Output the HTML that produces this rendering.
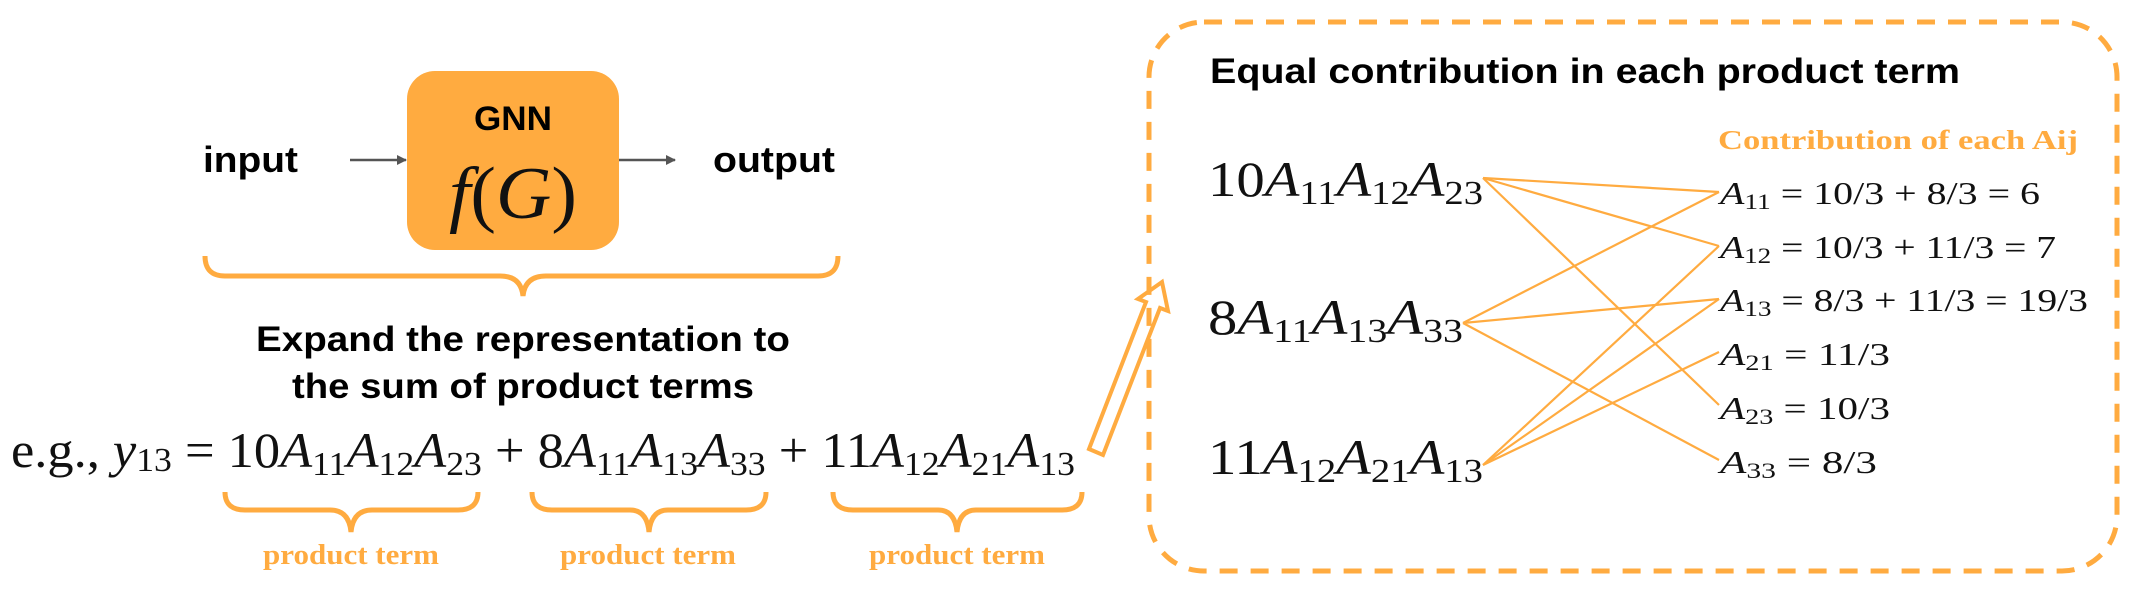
<!DOCTYPE html>
<html><head><meta charset="utf-8"><style>
html,body{margin:0;padding:0;background:#fff;}
svg{display:block}
.b{font-family:"Liberation Sans",sans-serif;font-weight:bold;fill:#000}
.m{font-family:"Liberation Serif",serif;fill:#111}
.i{font-style:italic}
.o{font-family:"Liberation Serif",serif;font-weight:bold;fill:#FFAB40}
</style></head><body>
<svg width="2146" height="608" viewBox="0 0 2146 608" xmlns="http://www.w3.org/2000/svg">
<defs><marker id="ah" markerWidth="10" markerHeight="10" refX="9" refY="5" orient="auto" markerUnits="userSpaceOnUse"><path d="M0,0 L10,5 L0,10 z" fill="#555"/></marker></defs>
<rect x="407" y="71" width="212" height="179" rx="28" fill="#FFAB40"/>
<text x="513" y="130" class="b" font-size="34" text-anchor="middle" textLength="78" lengthAdjust="spacingAndGlyphs">GNN</text>
<text x="513" y="218" class="m" font-size="74" text-anchor="middle" textLength="128" lengthAdjust="spacingAndGlyphs"><tspan class="i">f</tspan>(<tspan class="i">G</tspan>)</text>
<text x="203" y="172" class="b" font-size="36" textLength="95" lengthAdjust="spacingAndGlyphs">input</text>
<text x="713" y="172" class="b" font-size="36" textLength="122" lengthAdjust="spacingAndGlyphs">output</text>
<line x1="350" y1="160" x2="406" y2="160" stroke="#555" stroke-width="2.5" marker-end="url(#ah)"/>
<line x1="619" y1="160" x2="675" y2="160" stroke="#555" stroke-width="2.5" marker-end="url(#ah)"/>
<path d="M205,256 Q205,276 225,276 L500,276 Q521,276 523,296 Q525,276 546,276 L818,276 Q838,276 838,256" fill="none" stroke="#FFAB40" stroke-width="5"/>
<text x="523" y="351" class="b" font-size="35" text-anchor="middle" textLength="534" lengthAdjust="spacingAndGlyphs">Expand the representation to</text>
<text x="523" y="398" class="b" font-size="35" text-anchor="middle" textLength="462" lengthAdjust="spacingAndGlyphs">the sum of product terms</text>
<text x="11" y="467" class="m" font-size="50" textLength="1064" lengthAdjust="spacingAndGlyphs">e.g., <tspan class="i">y</tspan><tspan font-size="34" dy="4">13</tspan><tspan dy="-4"> = 10</tspan><tspan class="i">A</tspan><tspan font-size="34" dy="8">11</tspan><tspan class="i" dy="-8">A</tspan><tspan font-size="34" dy="8">12</tspan><tspan class="i" dy="-8">A</tspan><tspan font-size="34" dy="8">23</tspan><tspan dy="-8"> + 8</tspan><tspan class="i">A</tspan><tspan font-size="34" dy="8">11</tspan><tspan class="i" dy="-8">A</tspan><tspan font-size="34" dy="8">13</tspan><tspan class="i" dy="-8">A</tspan><tspan font-size="34" dy="8">33</tspan><tspan dy="-8"> + 11</tspan><tspan class="i">A</tspan><tspan font-size="34" dy="8">12</tspan><tspan class="i" dy="-8">A</tspan><tspan font-size="34" dy="8">21</tspan><tspan class="i" dy="-8">A</tspan><tspan font-size="34" dy="8">13</tspan></text>
<g fill="none" stroke="#FFAB40" stroke-width="5">
<path d="M225,492 Q225,510 245,510 L330,510 Q349,510 351,532 Q353,510 372,510 L458,510 Q478,510 478,492"/>
<path d="M532,492 Q532,510 552,510 L630,510 Q647,510 649,532 Q651,510 668,510 L746,510 Q766,510 766,492"/>
<path d="M833,492 Q833,510 853,510 L938,510 Q955,510 957,532 Q959,510 976,510 L1062,510 Q1082,510 1082,492"/>
</g>
<text x="351" y="564" class="o" font-size="28" text-anchor="middle" textLength="176" lengthAdjust="spacingAndGlyphs">product term</text>
<text x="648" y="564" class="o" font-size="28" text-anchor="middle" textLength="176" lengthAdjust="spacingAndGlyphs">product term</text>
<text x="957" y="564" class="o" font-size="28" text-anchor="middle" textLength="176" lengthAdjust="spacingAndGlyphs">product term</text>
<path d="M1089,449 L1146,302 L1138,299 L1162,282 L1168,311 L1160,308 L1103,455 Z" fill="#fff" stroke="#FFAB40" stroke-width="4" stroke-linejoin="miter"/>
<rect x="1149" y="22" width="968" height="549" rx="55" fill="none" stroke="#FFAB40" stroke-width="5" stroke-dasharray="18,13"/>
<text x="1210" y="83" class="b" font-size="35" textLength="750" lengthAdjust="spacingAndGlyphs">Equal contribution in each product term</text>
<text x="1718" y="149" class="o" font-size="27" textLength="360" lengthAdjust="spacingAndGlyphs">Contribution of each Aij</text>
<g stroke="#FFAB40" stroke-width="2.2" fill="none">
<line x1="1483" y1="178" x2="1719" y2="192"/>
<line x1="1483" y1="178" x2="1719" y2="246"/>
<line x1="1483" y1="178" x2="1719" y2="405"/>
<line x1="1463" y1="323" x2="1719" y2="192"/>
<line x1="1463" y1="323" x2="1719" y2="299"/>
<line x1="1463" y1="323" x2="1719" y2="460"/>
<line x1="1483" y1="465" x2="1719" y2="246"/>
<line x1="1483" y1="465" x2="1719" y2="299"/>
<line x1="1483" y1="465" x2="1719" y2="352"/>
</g>
<g class="m" font-size="50">
<text x="1208" y="196" textLength="275" lengthAdjust="spacingAndGlyphs">10<tspan class="i">A</tspan><tspan font-size="34" dy="8">11</tspan><tspan class="i" dy="-8">A</tspan><tspan font-size="34" dy="8">12</tspan><tspan class="i" dy="-8">A</tspan><tspan font-size="34" dy="8">23</tspan></text>
<text x="1208" y="334" textLength="255" lengthAdjust="spacingAndGlyphs">8<tspan class="i">A</tspan><tspan font-size="34" dy="8">11</tspan><tspan class="i" dy="-8">A</tspan><tspan font-size="34" dy="8">13</tspan><tspan class="i" dy="-8">A</tspan><tspan font-size="34" dy="8">33</tspan></text>
<text x="1208" y="474" textLength="275" lengthAdjust="spacingAndGlyphs">11<tspan class="i">A</tspan><tspan font-size="34" dy="8">12</tspan><tspan class="i" dy="-8">A</tspan><tspan font-size="34" dy="8">21</tspan><tspan class="i" dy="-8">A</tspan><tspan font-size="34" dy="8">13</tspan></text>
</g>
<g class="m" font-size="32">
<text x="1720" y="204" textLength="320" lengthAdjust="spacingAndGlyphs"><tspan class="i">A</tspan><tspan font-size="22" dy="5">11</tspan><tspan dy="-5"> = 10/3 + 8/3 = 6</tspan></text>
<text x="1720" y="258" textLength="336" lengthAdjust="spacingAndGlyphs"><tspan class="i">A</tspan><tspan font-size="22" dy="5">12</tspan><tspan dy="-5"> = 10/3 + 11/3 = 7</tspan></text>
<text x="1720" y="311" textLength="368" lengthAdjust="spacingAndGlyphs"><tspan class="i">A</tspan><tspan font-size="22" dy="5">13</tspan><tspan dy="-5"> = 8/3 + 11/3 = 19/3</tspan></text>
<text x="1720" y="365" textLength="170" lengthAdjust="spacingAndGlyphs"><tspan class="i">A</tspan><tspan font-size="22" dy="5">21</tspan><tspan dy="-5"> = 11/3</tspan></text>
<text x="1720" y="419" textLength="170" lengthAdjust="spacingAndGlyphs"><tspan class="i">A</tspan><tspan font-size="22" dy="5">23</tspan><tspan dy="-5"> = 10/3</tspan></text>
<text x="1720" y="473" textLength="157" lengthAdjust="spacingAndGlyphs"><tspan class="i">A</tspan><tspan font-size="22" dy="5">33</tspan><tspan dy="-5"> = 8/3</tspan></text>
</g>
</svg>
</body></html>
